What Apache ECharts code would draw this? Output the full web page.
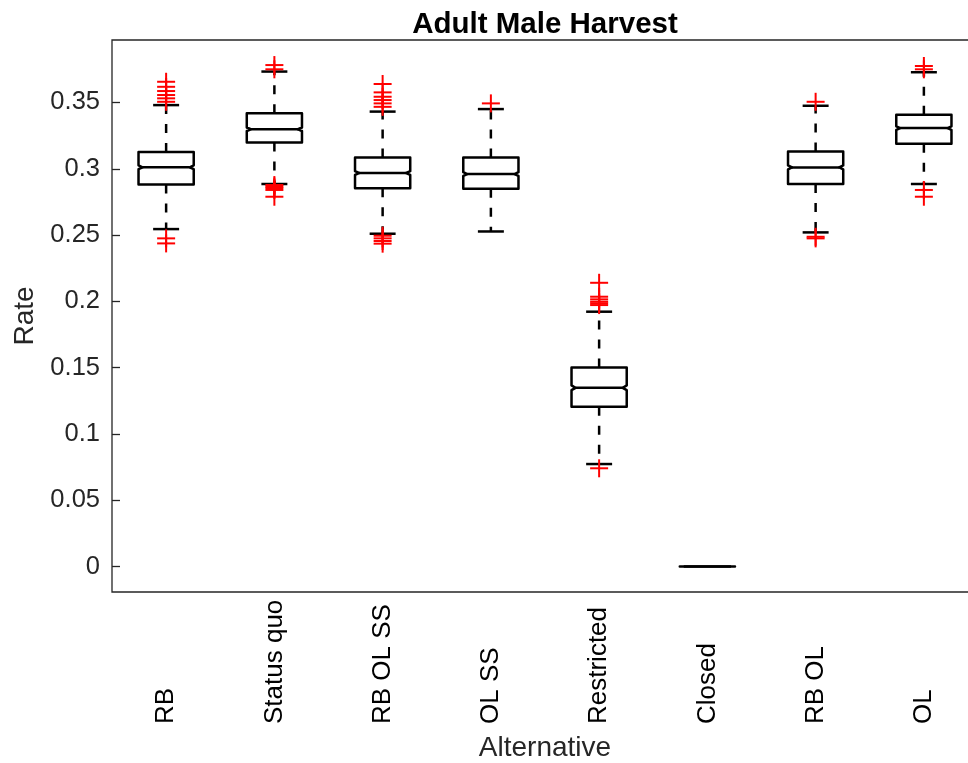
<!DOCTYPE html>
<html>
<head>
<meta charset="utf-8">
<script src="https://cdn.jsdelivr.net/npm/echarts@6/dist/echarts.min.js"></script>
<style>
html,body{margin:0;padding:0;background:#fff;}
#chart{width:968px;height:763px;}
</style>
</head>
<body>
<div id="chart"></div>
<script>
// ---- data ----
const categories = ['RB', 'Status quo', 'RB OL SS', 'OL SS', 'Restricted', 'Closed', 'RB OL', 'OL'];
const lowerWhisker = [0.2545, 0.2885, 0.2510, 0.2527, 0.0773, 0, 0.2520, 0.2885];
const q1Values     = [0.2882, 0.3198, 0.2853, 0.2849, 0.1205, 0, 0.2885, 0.3188];
const medianValues = [0.3011, 0.3298, 0.2968, 0.2960, 0.1348, 0, 0.3010, 0.3307];
const q3Values     = [0.3126, 0.3418, 0.3085, 0.3085, 0.1502, 0, 0.3130, 0.3407];
const upperWhisker = [0.3480, 0.3733, 0.3431, 0.3450, 0.1922, 0, 0.3475, 0.3728];
const outliersRB        = [0.3656, 0.3618, 0.3586, 0.3556, 0.3531, 0.3505, 0.2475, 0.2437];
const outliersStatusQuo = [0.3782, 0.3750, 0.2877, 0.2866, 0.2855, 0.2840, 0.2789];
const outliersRBOLSS    = [0.3639, 0.3576, 0.3543, 0.3518, 0.3493, 0.3467, 0.2495, 0.2475, 0.2455, 0.2435];
const outliersOLSS      = [0.3493];
const outliersRestricted= [0.2140, 0.2035, 0.2015, 0.1997, 0.1985, 0.1972, 0.0741];
const outliersClosed    = [];
const outliersRBOL      = [0.3505, 0.2487, 0.2475];
const outliersOL        = [0.3775, 0.3750, 0.2840, 0.2789];
const outlierGroups = [outliersRB, outliersStatusQuo, outliersRBOLSS, outliersOLSS,
                       outliersRestricted, outliersClosed, outliersRBOL, outliersOL];
const yTickValues = [0, 0.05, 0.1, 0.15, 0.2, 0.25, 0.3, 0.35];

// ---- build series data ----
const boxData = categories.map((c, i) =>
  [i, lowerWhisker[i], q1Values[i], medianValues[i], q3Values[i], upperWhisker[i]]);
const outlierData = [];
outlierGroups.forEach((g, i) => g.forEach(v => outlierData.push([i, v])));

const FONT = '"Liberation Sans", Arial, Helvetica, sans-serif';
const AX = '#262626';

function renderBox(params, api) {
  const i = api.value(0);
  const lw = api.value(1), q1 = api.value(2), md = api.value(3), q3 = api.value(4), uw = api.value(5);
  const band = api.size([1, 0])[0];
  const hb = band * 0.255;   // half box width
  const hc = band * 0.12;    // half cap width
  const ind = 4;             // notch indent px
  const notch = 0.06 * (q3 - q1);
  const cx = api.coord([i, md])[0];
  const y = v => api.coord([i, v])[1];
  const yq1 = y(q1), yq3 = y(q3), ymd = y(md), ynl = y(md - notch), ynh = y(md + notch);
  const ylw = y(lw), yuw = y(uw);
  const children = [];
  const solid = { stroke: '#000', lineWidth: 2.5, fill: null };
  const dashed = { stroke: '#000', lineWidth: 2.5, lineDash: [9, 10], fill: null };
  if (uw > q3) {
    children.push({ type: 'line', shape: { x1: cx, y1: yq3, x2: cx, y2: yuw }, style: dashed });
    children.push({ type: 'line', shape: { x1: cx - hc, y1: yuw, x2: cx + hc, y2: yuw }, style: solid });
  }
  if (lw < q1) {
    children.push({ type: 'line', shape: { x1: cx, y1: yq1, x2: cx, y2: ylw }, style: dashed });
    children.push({ type: 'line', shape: { x1: cx - hc, y1: ylw, x2: cx + hc, y2: ylw }, style: solid });
  }
  const pts = [
    [cx - hb, yq1], [cx - hb, ynl], [cx - hb + ind, ymd], [cx - hb, ynh], [cx - hb, yq3],
    [cx + hb, yq3], [cx + hb, ynh], [cx + hb - ind, ymd], [cx + hb, ynl], [cx + hb, yq1]
  ];
  children.push({ type: 'polygon', shape: { points: pts }, style: { stroke: '#000', lineWidth: 2.5, fill: '#fff', lineJoin: 'round' } });
  children.push({ type: 'line', shape: { x1: cx - hb + ind, y1: ymd, x2: cx + hb - ind, y2: ymd }, style: solid });
  return { type: 'group', children };
}

function renderPlus(params, api) {
  const p = api.coord([api.value(0), api.value(1)]);
  const s = 9;
  const st = { stroke: '#ff0000', lineWidth: 2, fill: null };
  return { type: 'group', children: [
    { type: 'line', shape: { x1: p[0] - s, y1: p[1], x2: p[0] + s, y2: p[1] }, style: st },
    { type: 'line', shape: { x1: p[0], y1: p[1] - s, x2: p[0], y2: p[1] + s }, style: st }
  ] };
}

const chart = echarts.init(document.getElementById('chart'), null, { renderer: 'canvas' });
chart.setOption({
  animation: false,
  backgroundColor: '#fff',
  title: {
    text: 'Adult Male Harvest', left: 540, top: 5, textAlign: 'center',
    textStyle: { fontFamily: FONT, fontSize: 29.5, fontWeight: 'bold', color: '#000' }
  },
  grid: {
    left: 112, top: 40, width: 866, height: 552,
    outerBoundsMode: 'none', containLabel: false,
    show: true, borderColor: AX, borderWidth: 1.3, backgroundColor: 'transparent'
  },
  xAxis: {
    type: 'category', data: categories, boundaryGap: true,
    name: 'Alternative', nameLocation: 'middle', nameGap: 142,
    nameTextStyle: { fontFamily: FONT, fontSize: 28, color: AX },
    axisLine: { show: false },
    axisTick: { show: false },
    splitLine: { show: false },
    axisLabel: { rotate: 90, margin: 132, align: 'left', fontFamily: FONT, fontSize: 26, color: '#000', interval: 0 }
  },
  yAxis: {
    type: 'value', min: -0.0192, max: 0.3971,
    name: 'Rate', nameLocation: 'middle', nameGap: 72,
    nameTextStyle: { fontFamily: FONT, fontSize: 28, color: AX },
    axisLine: { show: false },
    splitLine: { show: false },
    axisTick: { show: true, inside: true, length: 8, customValues: yTickValues, lineStyle: { color: AX, width: 1.3 } },
    axisLabel: { margin: 12, fontFamily: FONT, fontSize: 25.5, color: AX, customValues: yTickValues,
      formatter: v => String(+(+v).toFixed(2)) }
  },
  series: [
    { type: 'custom', renderItem: renderBox, data: boxData, clip: false, z: 2,
      encode: { x: 0, y: [1, 2, 3, 4, 5] } },
    { type: 'custom', renderItem: renderPlus, data: outlierData, clip: false, z: 3,
      encode: { x: 0, y: 1 } }
  ]
});
</script>
</body>
</html>
